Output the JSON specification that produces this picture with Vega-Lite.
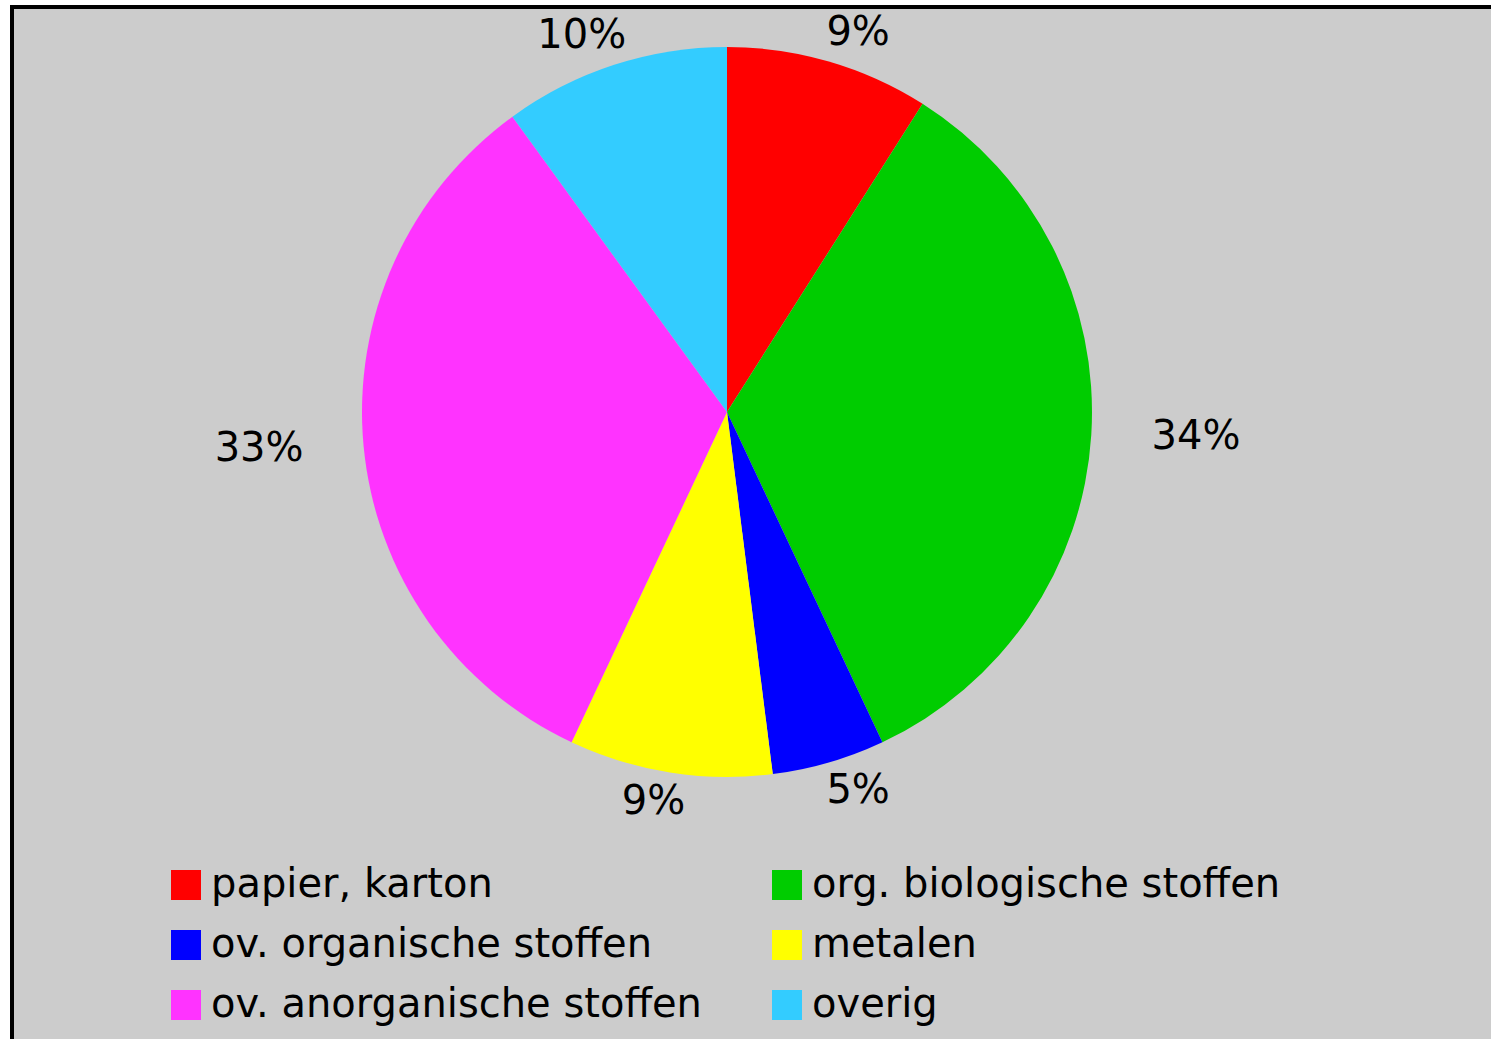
{
  "$schema": "https://vega.github.io/schema/vega-lite/v6.json",
  "width": 1485,
  "height": 1040,
  "autosize": "none",
  "padding": {"left": 12, "top": 7, "right": 0, "bottom": 0},
  "background": "white",
  "view": {"fill": "#cccccc", "stroke": "black", "strokeWidth": 4},
  "data": {
    "values": [
      {"category": "papier, karton", "value": 9, "label": "9%", "order": 1},
      {"category": "org. biologische stoffen", "value": 34, "label": "34%", "order": 2},
      {"category": "ov. organische stoffen", "value": 5, "label": "5%", "order": 3},
      {"category": "metalen", "value": 9, "label": "9%", "order": 4},
      {"category": "ov. anorganische stoffen", "value": 33, "label": "33%", "order": 5},
      {"category": "overig", "value": 10, "label": "10%", "order": 6}
    ]
  },
  "encoding": {
    "theta": {"field": "value", "type": "quantitative", "stack": true},
    "order": {"field": "order", "type": "quantitative"}
  },
  "layer": [
    {
      "mark": {"type": "arc", "outerRadius": 365, "xOffset": -27.5, "yOffset": -115},
      "encoding": {
        "color": {
          "field": "category",
          "type": "nominal",
          "scale": {
            "domain": ["papier, karton", "org. biologische stoffen", "ov. organische stoffen", "metalen", "ov. anorganische stoffen", "overig"],
            "range": ["#ff0000", "#00cc00", "#0000ff", "#ffff00", "#ff33ff", "#33ccff"]
          },
          "legend": {
            "title": null,
            "orient": "none",
            "direction": "horizontal",
            "legendX": 154,
            "legendY": 858,
            "columns": 2,
            "columnPadding": 65,
            "rowPadding": 20,
            "padding": 0,
            "symbolType": "square",
            "symbolSize": 900,
            "symbolStrokeWidth": 0,
            "symbolOpacity": 1,
            "labelFont": "DejaVu Sans",
            "labelFontSize": 40,
            "labelColor": "black",
            "labelOffset": 5,
            "labelLimit": 0
          }
        }
      }
    },
    {
      "mark": {
        "type": "text",
        "radius": 395,
        "dx": {"expr": "75*sin(PI*(datum.value_start+datum.value_end)/100)"},
        "xOffset": -27.5,
        "yOffset": -115,
        "font": "DejaVu Sans",
        "fontSize": 40,
        "fill": "black",
        "align": "center",
        "baseline": "middle"
      },
      "encoding": {
        "text": {"field": "label"},
        "detail": {"field": "category"}
      }
    }
  ]
}
